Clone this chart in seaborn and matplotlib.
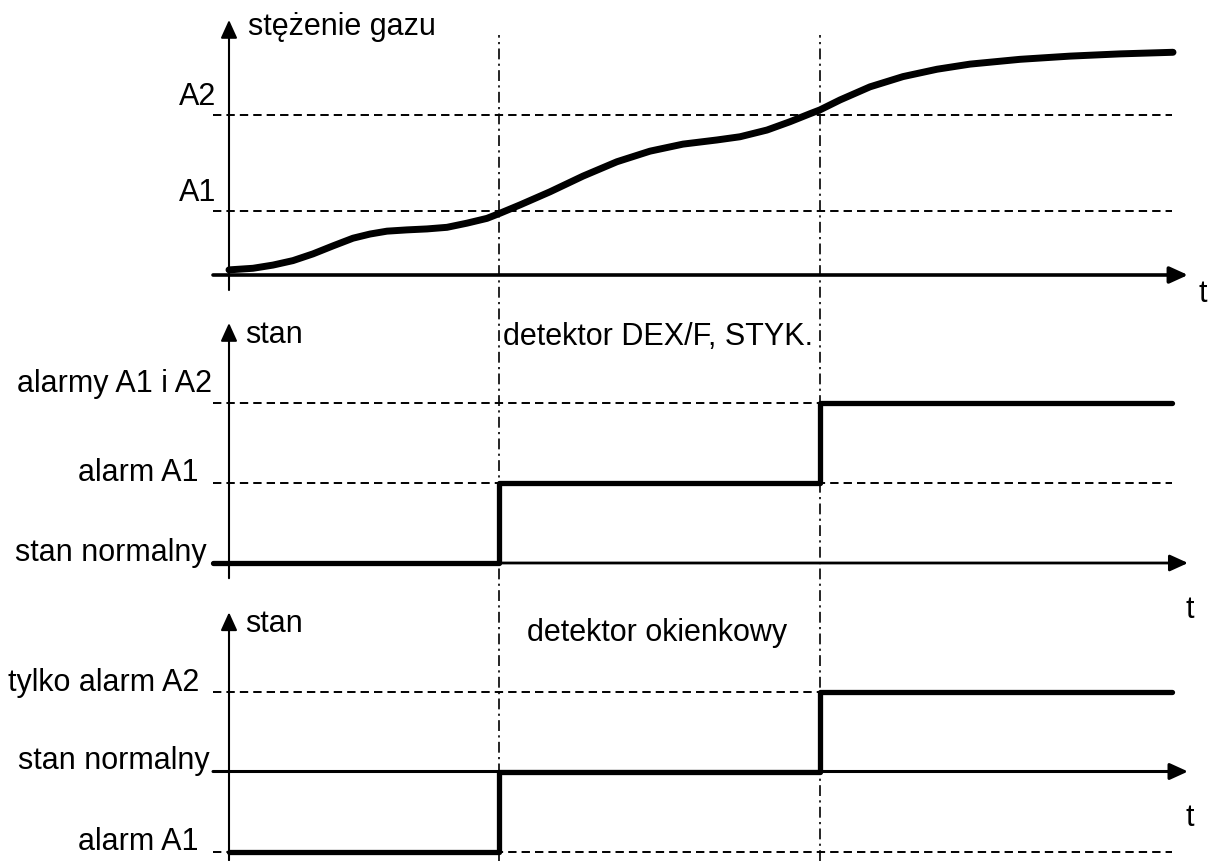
import matplotlib
matplotlib.use("Agg")
import matplotlib.pyplot as plt
import seaborn as sns
import pandas as pd

# ---------------- data ----------------
# panel 1: gas concentration curve (time units, concentration units)
conc_t = [0, 2.4, 4.4, 6.4, 8.4, 10.4, 12.4, 14.1, 15.8, 17.8, 19.8, 21.8, 23.8,
          25.8, 27.1, 29.1, 32.1, 35.4, 38.8, 42.1, 45.4, 48.8, 51.1, 53.8, 56.1,
          58.1, 59.1, 61.1, 64.1, 67.4, 70.8, 74.1, 79.1, 84.1, 89.1, 94.4]
conc_v = [1.6, 2.1, 3.1, 4.5, 6.6, 9.1, 11.5, 12.8, 13.7, 14.1, 14.4, 14.9, 16.2,
          17.7, 19.3, 21.9, 26.0, 30.9, 35.4, 38.7, 40.9, 42.2, 43.2, 45.3, 47.9,
          50.4, 51.6, 54.7, 58.8, 62.0, 64.3, 65.9, 67.4, 68.4, 69.1, 69.6]
thr_labels = ["A1", "A2"]
thr_values = [20, 50]

# switching moments (time units)
t_switch = [27.0, 59.1]
t_end = 94.3

# panel 2: detector DEX/F, STYK.
p2_labels = ["stan normalny", "alarm A1", "alarmy A1 i A2"]
p2_levels = [0, 1, 2]
p2_t = [-1.6, 27.0, 59.1, t_end]
p2_state = [0, 1, 2, 2]

# panel 3: window detector
p3_labels = ["alarm A1", "stan normalny", "tylko alarm A2"]
p3_levels = [-1, 0, 1]
p3_t = [0, 27.0, 59.1, t_end]
p3_state = [-1, 0, 1, 1]

# ---------------- style ----------------
sns.set_theme(style="white")
plt.rcParams["font.family"] = ["Liberation Sans", "DejaVu Sans"]
plt.rcParams["text.color"] = "black"
FS = 22

fig = plt.figure(figsize=(12.1, 8.61), dpi=100)
XLIM = (-22.9, 98.1)
T0 = -1.6        # left start of dashed lines / x-axes
TIP = 95.9       # x-axis arrow tip


def make_ax(ylim):
    ax = fig.add_axes([0, 0, 1, 1])
    ax.set_xlim(*XLIM)
    ax.set_ylim(*ylim)
    ax.axis("off")
    ax.patch.set_alpha(0)
    return ax


def arrow(ax, start, end, lw):
    ax.annotate("", xy=end, xytext=start,
                arrowprops=dict(arrowstyle="-|>,head_length=1.1,head_width=0.5",
                                mutation_scale=10, lw=lw, color="black",
                                shrinkA=0, shrinkB=0))


dash = dict(color="black", lw=1.4, linestyle=(0, (4.3, 2.6)))

# overlay for vertical dash-dot lines
ax0 = fig.add_axes([0, 0, 1, 1])
ax0.set_xlim(*XLIM)
ax0.set_ylim(0, 1)
ax0.axis("off")
for ts in t_switch:
    ax0.axvline(ts, ymin=0, ymax=1 - 35 / 861, color="black", lw=1.2,
                linestyle=(0, (6.5, 2.6, 1.3, 2.6)))

# ---------------- panel 1 ----------------
ax1 = make_ax((-183.125, 85.9375))
ax1.hlines(thr_values, T0, t_end, **dash)
arrow(ax1, (T0, 0), (TIP, 0), 2.6)
arrow(ax1, (0, -4.7), (0, 79.7), 1.5)
df1 = pd.DataFrame({"t": conc_t, "c": conc_v})
sns.lineplot(data=df1, x="t", y="c", ax=ax1, color="black", lw=5.0,
             sort=False, estimator=None, solid_capstyle="round",
             solid_joinstyle="round")
ax1.axis("off")
for lab, v in zip(thr_labels, thr_values):
    ax1.annotate(lab, xy=(0, v), xytext=(-13, 10), textcoords="offset pixels",
                 ha="right", va="baseline", fontsize=FS)
ax1.text(1.9, 75, "stężenie gazu", ha="left", va="baseline", fontsize=FS)
ax1.text(97.4, -8.4, "t", ha="center", va="baseline", fontsize=FS)

# ---------------- panel 2 ----------------
ax2 = make_ax((-3.725, 7.0375))
ax2.hlines(p2_levels[1:], T0, t_end, **dash)
arrow(ax2, (T0, 0), (TIP, 0), 2.0)
arrow(ax2, (0, -0.19), (0, 3.0), 1.5)
df2 = pd.DataFrame({"t": p2_t, "s": p2_state})
sns.lineplot(data=df2, x="t", y="s", ax=ax2, color="black", lw=3.8,
             sort=False, estimator=None, drawstyle="steps-post")
ax2.axis("off")
p2_off = [(-22, 2), (-31, 2), (-17, 11)]
for lab, v, off in zip(p2_labels, p2_levels, p2_off):
    ax2.annotate(lab, xy=(0, v), xytext=off, textcoords="offset pixels",
                 ha="right", va="baseline", fontsize=FS)
ax2.text(1.6, 2.75, "stan", ha="left", va="baseline", fontsize=FS)
ax2.text(27.4, 2.725, "detektor DEX/F, STYK.", ha="left", va="baseline", fontsize=FS)
ax2.text(96.1, -0.69, "t", ha="center", va="baseline", fontsize=FS)

# ---------------- panel 3 ----------------
ax3 = make_ax((-1.11875, 9.64375))
ax3.hlines([p3_levels[0], p3_levels[2]], T0, t_end, **dash)
arrow(ax3, (T0, 0), (TIP, 0), 2.2)
arrow(ax3, (0, -1.11), (0, 1.99), 1.5)
df3 = pd.DataFrame({"t": p3_t, "s": p3_state})
sns.lineplot(data=df3, x="t", y="s", ax=ax3, color="black", lw=3.8,
             sort=False, estimator=None, drawstyle="steps-post")
ax3.axis("off")
p3_off = [(-31, 1), (-19, 2), (-30, 1)]
for lab, v, off in zip(p3_labels, p3_levels, p3_off):
    ax3.annotate(lab, xy=(0, v), xytext=off, textcoords="offset pixels",
                 ha="right", va="baseline", fontsize=FS)
ax3.text(1.6, 1.74, "stan", ha="left", va="baseline", fontsize=FS)
ax3.text(29.8, 1.63, "detektor okienkowy", ha="left", va="baseline", fontsize=FS)
ax3.text(96.1, -0.68, "t", ha="center", va="baseline", fontsize=FS)

fig.savefig("out.png", dpi=100, facecolor="white")
